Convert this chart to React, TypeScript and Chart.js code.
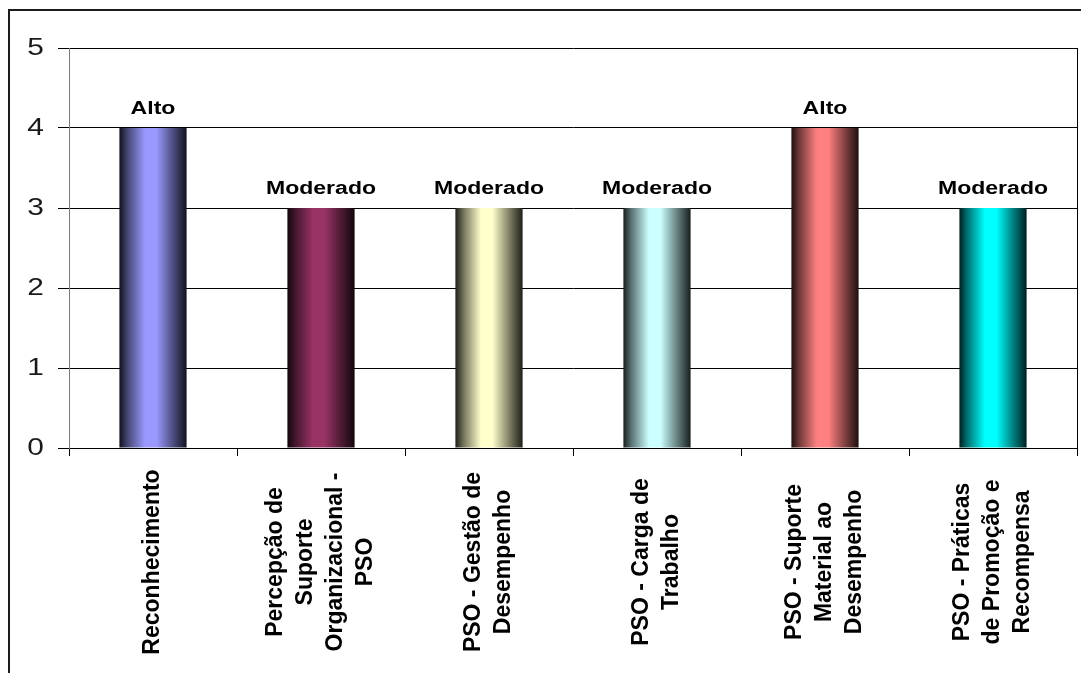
import React, { useEffect, useRef } from 'react';
import { Chart, registerables } from 'chart.js';

Chart.register(...registerables);

// Category names, each split into the lines of its rotated axis label
const categories: string[][] = [
  ['Reconhecimento'],
  ['Percepção de', 'Suporte', 'Organizacional -', 'PSO'],
  ['PSO - Gestão de', 'Desempenho'],
  ['PSO - Carga de', 'Trabalho'],
  ['PSO - Suporte', 'Material ao', 'Desempenho'],
  ['PSO - Práticas', 'de Promoção e', 'Recompensa'],
];

// Score of each factor on the 0–5 scale
const scores: number[] = [4, 3, 3, 3, 4, 3];

// Level name printed above each bar
const levels: string[] = ['Alto', 'Moderado', 'Moderado', 'Moderado', 'Alto', 'Moderado'];

// Value axis ticks
const yTicks: number[] = [0, 1, 2, 3, 4, 5];

// Base fill of each bar
const barColors: string[] = ['#9999FF', '#993366', '#FFFFCC', '#CCFFFF', '#FF8080', '#00FFFF'];

const BAR_FRACTION = 0.4;
const FONT = '"Liberation Sans", Arial, Helvetica, sans-serif';

function shade(hex: string, f: number): string {
  const n = parseInt(hex.slice(1), 16);
  const r = Math.round(((n >> 16) & 255) * f);
  const g = Math.round(((n >> 8) & 255) * f);
  const b = Math.round((n & 255) * f);
  return `rgb(${r},${g},${b})`;
}

// Cylinder-like shading: dark edges, light band left of centre
function barFill(context: any) {
  const i = context.dataIndex;
  const base = barColors[i ?? 0];
  const chart = context.chart;
  const xs = chart.scales?.x;
  if (i === undefined || !chart.chartArea || !xs) return base;
  const cx = xs.getPixelForValue(i);
  const w = (xs.width / categories.length) * BAR_FRACTION;
  const g = chart.ctx.createLinearGradient(cx - w / 2, 0, cx + w / 2, 0);
  g.addColorStop(0, shade(base, 0.12));
  g.addColorStop(0.12, shade(base, 0.45));
  g.addColorStop(0.38, base);
  g.addColorStop(0.55, base);
  g.addColorStop(0.8, shade(base, 0.5));
  g.addColorStop(1, shade(base, 0.12));
  return g;
}

const decorPlugin = {
  id: 'decor',
  beforeDraw(chart: any) {
    const { ctx, width, height } = chart;
    ctx.save();
    ctx.fillStyle = '#ffffff';
    ctx.fillRect(0, 0, width, height);
    // outer frame (left and top edges)
    ctx.strokeStyle = '#1c1c1c';
    ctx.lineWidth = 2;
    ctx.beginPath();
    ctx.moveTo(9, height);
    ctx.lineTo(9, 10);
    ctx.lineTo(width, 10);
    ctx.stroke();
    ctx.restore();
  },
  afterDraw(chart: any) {
    const { ctx, chartArea } = chart;
    const xs = chart.scales.x;
    const ys = chart.scales.y;

    // plot area right edge
    ctx.save();
    ctx.strokeStyle = '#000';
    ctx.lineWidth = 1;
    ctx.beginPath();
    ctx.moveTo(chartArea.right + 0.5, chartArea.top);
    ctx.lineTo(chartArea.right + 0.5, chartArea.bottom);
    ctx.stroke();
    ctx.restore();

    // value axis labels
    yTicks.forEach((v) => {
      const py = ys.getPixelForValue(v);
      ctx.save();
      ctx.translate(ys.right - 25, py + 1);
      ctx.scale(1.3, 1);
      ctx.font = `23px ${FONT}`;
      ctx.fillStyle = '#1a1a1a';
      ctx.textAlign = 'right';
      ctx.textBaseline = 'middle';
      ctx.fillText(String(v), 0, 0);
      ctx.restore();
    });

    // level names above the bars
    const meta = chart.getDatasetMeta(0);
    meta.data.forEach((bar: any, i: number) => {
      const { x, y } = bar.getProps(['x', 'y'], true);
      ctx.save();
      ctx.translate(x, y - 14);
      ctx.scale(1.28, 1);
      ctx.font = `bold 18px ${FONT}`;
      ctx.fillStyle = '#000';
      ctx.textAlign = 'center';
      ctx.textBaseline = 'alphabetic';
      ctx.fillText(levels[i], 0, 0);
      ctx.restore();
    });

    // rotated category labels
    categories.forEach((lines, i) => {
      const cx = xs.getPixelForValue(i);
      ctx.save();
      ctx.translate(cx, xs.top + 114);
      ctx.rotate(-Math.PI / 2);
      ctx.font = `bold 23px ${FONT}`;
      ctx.fillStyle = '#000';
      ctx.textAlign = 'center';
      ctx.textBaseline = 'middle';
      lines.forEach((ln, j) => {
        ctx.fillText(ln, 0, (j - (lines.length - 1) / 2) * 30);
      });
      ctx.restore();
    });
  },
};

export default function App() {
  const canvasRef = useRef<HTMLCanvasElement | null>(null);

  useEffect(() => {
    const canvas = canvasRef.current;
    if (!canvas) return;
    const chart = new Chart(canvas, {
      type: 'bar',
      data: {
        labels: categories.map((c) => c.join(' ')),
        datasets: [
          {
            data: scores,
            backgroundColor: barFill,
            borderWidth: 0,
            categoryPercentage: 1,
            barPercentage: BAR_FRACTION,
          },
        ],
      },
      options: {
        responsive: false,
        animation: false,
        events: [],
        layout: { padding: { top: 48, right: 4, left: 0, bottom: 0 } },
        plugins: {
          legend: { display: false },
          title: { display: false },
          tooltip: { enabled: false },
        },
        scales: {
          x: {
            type: 'category',
            offset: true,
            grid: {
              offset: true,
              drawOnChartArea: false,
              drawTicks: true,
              tickLength: 8,
              color: '#000',
              lineWidth: 1,
            },
            border: { display: true, color: '#000', width: 1 },
            ticks: { display: false },
            afterFit: (scale: any) => {
              scale.height = 225;
            },
          },
          y: {
            min: 0,
            max: 5,
            ticks: { display: false, stepSize: 1 },
            grid: {
              color: '#000',
              lineWidth: 1,
              drawTicks: true,
              tickLength: 11,
            },
            border: { display: true, color: '#7a7a7a', width: 1 },
            afterFit: (scale: any) => {
              scale.width = 69;
            },
          },
        },
      },
      plugins: [decorPlugin],
    });
    return () => chart.destroy();
  }, []);

  return (
    <div style={{ position: 'fixed', left: 0, top: 0, width: 1081, height: 673, background: '#fff' }}>
      <canvas ref={canvasRef} width={1081} height={673} style={{ display: 'block' }} />
    </div>
  );
}
